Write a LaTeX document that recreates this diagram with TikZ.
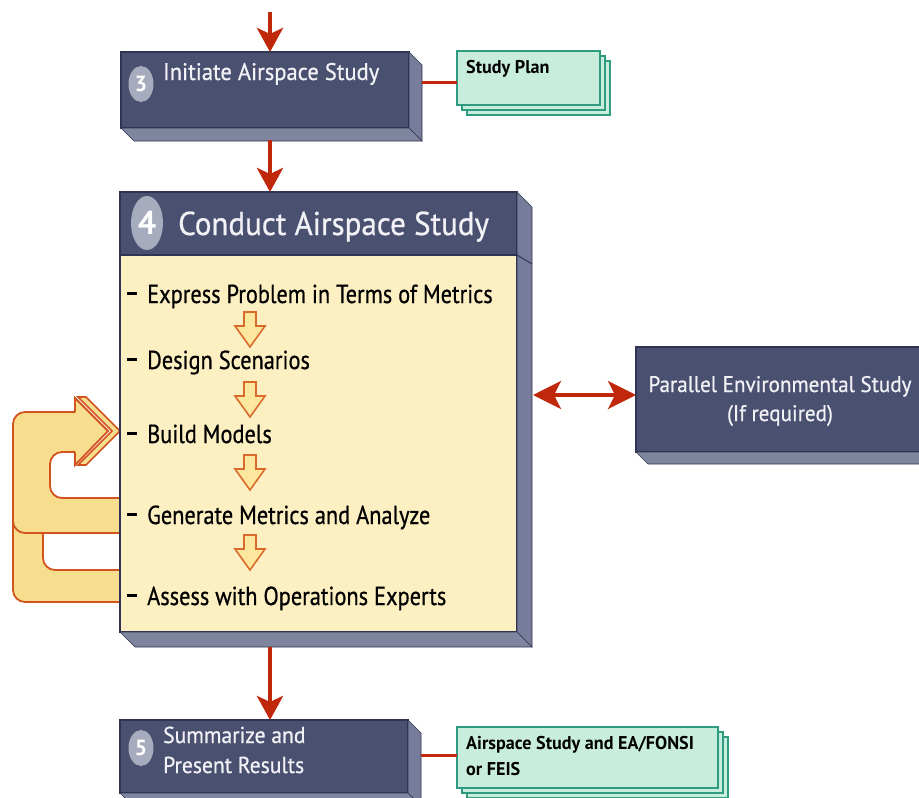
\documentclass[tikz,border=0pt]{standalone}
\usepackage{fontspec}
\setmainfont{PT Sans}[FakeStretch=0.86, FakeBold=0.6]
\newfontfamily\titlefont{PT Sans}[FakeStretch=0.94, FakeBold=0.6]
\newfontfamily\labelfont{PT Sans Bold}[FakeStretch=0.98]
\usetikzlibrary{arrows.meta,calc,shapes.geometric,shadows}

\definecolor{navy}{HTML}{4A5070}
\definecolor{navyline}{HTML}{2E3452}
\definecolor{navyside}{HTML}{767C9A}
\definecolor{navybot}{HTML}{80859F}
\definecolor{discgray}{HTML}{A7ABBE}
\definecolor{boxtext}{HTML}{F2F2F6}
\definecolor{flowred}{HTML}{C0280C}
\definecolor{notepad}{HTML}{FCEFC2}
\definecolor{loopfill}{HTML}{F7DE8F}
\definecolor{loopline}{HTML}{D2531D}
\definecolor{hollowfill}{HTML}{FBE89E}
\definecolor{hollowline}{HTML}{DA6A2C}
\definecolor{mint}{HTML}{C9EDDC}
\definecolor{tealline}{HTML}{2F9C82}

\newcommand\pxfont[1]{\fontsize{#1}{#1}\selectfont}
\newcommand\itemdash{\rule[8pt]{10pt}{2.6pt}\hspace{10pt}}

% side and bottom faces of an extruded box (node name, depth)
\newcommand\extrude[2]{%
  \path[rightface] (#1.north east) -- ++(#2,#2) -- ($(#1.south east)+(#2,#2)$) -- (#1.south east) -- cycle;
  \path[bottomface] (#1.south west) -- (#1.south east) -- ++(#2,#2) -- ($(#1.south west)+(#2,#2)$) -- cycle;}

\begin{document}
\begin{tikzpicture}[x=1pt,y=-1pt,
  boxfront/.style={rectangle, fill=navy, draw=navyline, line width=1.2pt, inner sep=0pt, outer sep=0pt},
  notebody/.style={rectangle, fill=notepad, draw=navyline, line width=2pt, inner sep=0pt, outer sep=0pt},
  rightface/.style={fill=navyside, draw=navyline, line width=0.6pt},
  bottomface/.style={fill=navybot, draw=navyline, line width=0.6pt},
  titletext/.style={text=boxtext, font=\titlefont\pxfont{24}, inner sep=0pt, anchor=base west},
  bigtitle/.style={text=boxtext, font=\titlefont\pxfont{33}, inner sep=0pt, anchor=base west},
  steptext/.style={text=black, font=\pxfont{26}, inner sep=0pt, anchor=base west},
  partext/.style={text=boxtext, font=\titlefont\pxfont{22.5}, inner sep=0pt, anchor=base},
  numdisc/.style={ellipse, fill=discgray, text=white, font=\labelfont\pxfont{22}, inner sep=0pt,
                  minimum width=25pt, minimum height=36pt},
  docstack/.style={rectangle, fill=mint, draw=tealline, line width=1.4pt, inner sep=0pt, outer sep=0pt,
                   double copy shadow={shadow xshift=5pt, shadow yshift=-5pt, fill=mint, draw=tealline}},
  doctext/.style={text=black, font=\labelfont\pxfont{18.5}, inner sep=0pt, anchor=base west},
  flow/.style={draw=flowred, line width=4.5pt, -{Stealth[length=24pt, width=26pt, inset=6pt]}},
  twoway/.style={draw=flowred, line width=3.5pt,
                 {Stealth[length=28pt, width=28pt, inset=7pt]}-{Stealth[length=28pt, width=28pt, inset=7pt]}},
  link/.style={draw=flowred, line width=3pt},
  loopband/.style={fill=loopfill, draw=loopline, line width=1.8pt},
  hollowdown/.pic={\path[fill=hollowfill, draw=hollowline, line width=1.6pt, line join=miter]
     (-6,0) -- (6,0) -- (6,14) -- (15,14) -- (0,35) -- (-15,14) -- (-6,14) -- cycle;}
]
\useasboundingbox (0,0) rectangle (919,798);

% feedback loops on the left of the study box
\path[loopband, rounded corners=12pt] (125,602) -- (13,602) -- (13,470) -- (43,470) -- (43,570) -- (125,570);
\path[loopband, rounded corners=12pt] (125,533) -- (13,533) -- (13,412) -- (85,412) -- (85,452) -- (50,452) -- (50,498) -- (125,498);
\path[fill=loopfill, draw=loopline, line width=1.6pt, line join=miter]
  (78,397) -- (86,397) -- (120,431) -- (86,465) -- (78,465) -- (112,431) -- cycle;
\fill[loopfill] (75,398) -- (108,431) -- (75,465) -- cycle;
\draw[loopline, line width=1.8pt, line join=miter] (75,412) -- (75,398) -- (108,431) -- (75,465) -- (75,452);

% step 4: conduct airspace study
\node[boxfront, minimum width=397pt, minimum height=63pt] (h4) at (318.5,223.5) {};
\node[notebody, minimum width=397pt, minimum height=377pt] (body4) at (318.5,443.5) {};
\path[rightface] (h4.north east) -- ++(15,15) -- ($(body4.south east)+(15,15)$) -- (body4.south east) -- cycle;
\path[bottomface] (body4.south west) -- (body4.south east) -- ++(15,15) -- ($(body4.south west)+(15,15)$) -- cycle;
\draw[navyline, line width=1pt] (body4.north east) -- ++(15,9);
\node[numdisc, minimum width=32pt, minimum height=54pt, font=\labelfont\pxfont{33}] (n4) at (147,223) {4};
\node[bigtitle] (t4) at (178,235) {Conduct Airspace Study};

\node[steptext] (s1) at (127,303) {\itemdash Express Problem in Terms of Metrics};
\node[steptext] (s2) at (127,369) {\itemdash Design Scenarios};
\node[steptext] (s3) at (127,443) {\itemdash Build Models};
\node[steptext] (s4) at (127,524) {\itemdash Generate Metrics and Analyze};
\node[steptext] (s5) at (127,605) {\itemdash Assess with Operations Experts};
\pic at (250,312) {hollowdown};
\pic at (250,382) {hollowdown};
\pic at (250,455) {hollowdown};
\pic at (250,535) {hollowdown};

% step 3: initiate airspace study
\node[boxfront, minimum width=288pt, minimum height=76pt] (b3) at (265,90) {};
\extrude{b3}{13}
\node[numdisc] (n3) at (141,84) {3};
\node[titletext] (t3) at (163,80) {Initiate Airspace Study};

% step 5: summarize and present results
\node[boxfront, minimum width=288pt, minimum height=73pt] (b5) at (264,756.5) {};
\extrude{b5}{13}
\node[numdisc] (n5) at (141,748) {5};
\node[titletext, font=\titlefont\pxfont{23}] (t5a) at (163,743) {Summarize and};
\node[titletext, font=\titlefont\pxfont{23}] (t5b) at (163,773) {Present Results};

% parallel environmental study
\node[boxfront, minimum width=300pt, minimum height=105pt] (par) at (786,399.5) {};
\extrude{par}{12}
\node[partext] (p1) at (780,392) {Parallel Environmental Study};
\node[partext] (p2) at (780,421) {(If required)};

% output documents
\node[docstack, minimum width=143pt, minimum height=54pt] (sp) at (528.5,78) {};
\node[doctext] (spt) at (466,73) {Study Plan};
\node[docstack, minimum width=261pt, minimum height=61pt] (od) at (587.5,757.5) {};
\node[doctext] (odt1) at (466,749) {Airspace Study and EA/FONSI};
\node[doctext] (odt2) at (466,775) {or FEIS};

% connectors
\coordinate (col) at (270,0);
\coordinate (entry) at (270,12);
\coordinate (b3out) at ($(b3.south)+(0,12)$);
\coordinate (b4out) at ($(body4.south)+(0,15)$);
\coordinate (b3r) at (422,82);
\coordinate (b5r) at (421,755);
\coordinate (b4r) at (533,395);
\draw[flow] (entry) -- (entry |- b3.north);
\draw[flow] (b3out -| col) -- (col |- h4.north);
\draw[flow] (b4out -| col) -- (col |- b5.north);
\draw[link] (b3r) -- (b3r -| sp.west);
\draw[link] (b5r) -- (b5r -| od.west);
\draw[twoway] (b4r) -- (b4r -| par.west);
\end{tikzpicture}
\end{document}
